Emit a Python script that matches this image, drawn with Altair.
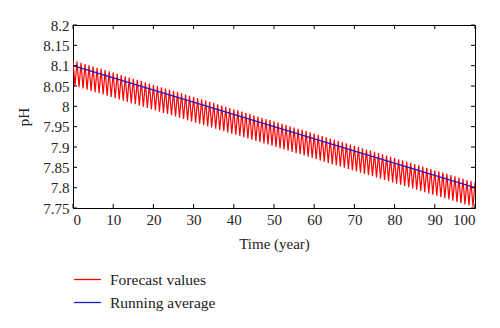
import altair as alt
import pandas as pd

# Forecast (red) peak values at integer years 0..100
peak_years = list(range(0, 101))
peak_ph = [
    8.113, 8.110, 8.107, 8.104, 8.101, 8.098, 8.095, 8.092, 8.089, 8.086,
    8.083, 8.080, 8.077, 8.074, 8.071, 8.068, 8.065, 8.062, 8.059, 8.056,
    8.053, 8.050, 8.047, 8.044, 8.041, 8.038, 8.035, 8.032, 8.029, 8.026,
    8.023, 8.020, 8.017, 8.014, 8.011, 8.008, 8.005, 8.002, 7.999, 7.996,
    7.993, 7.990, 7.987, 7.984, 7.981, 7.978, 7.975, 7.972, 7.969, 7.966,
    7.963, 7.960, 7.957, 7.954, 7.951, 7.948, 7.945, 7.942, 7.939, 7.936,
    7.933, 7.930, 7.927, 7.924, 7.921, 7.918, 7.915, 7.912, 7.909, 7.906,
    7.903, 7.900, 7.897, 7.894, 7.891, 7.888, 7.885, 7.882, 7.879, 7.876,
    7.873, 7.870, 7.867, 7.864, 7.861, 7.858, 7.855, 7.852, 7.849, 7.846,
    7.843, 7.840, 7.837, 7.834, 7.831, 7.828, 7.825, 7.822, 7.819, 7.816,
    7.813,
]
# Forecast (red) trough values at mid-years 0.5..99.5
trough_years = [y + 0.5 for y in range(0, 100)]
trough_ph = [
    8.050, 8.047, 8.044, 8.041, 8.038, 8.035, 8.032, 8.029, 8.026, 8.023,
    8.020, 8.017, 8.014, 8.011, 8.008, 8.005, 8.002, 7.999, 7.996, 7.993,
    7.990, 7.987, 7.984, 7.981, 7.978, 7.975, 7.972, 7.969, 7.966, 7.963,
    7.960, 7.957, 7.954, 7.951, 7.948, 7.945, 7.942, 7.939, 7.936, 7.933,
    7.930, 7.927, 7.924, 7.921, 7.918, 7.915, 7.912, 7.909, 7.906, 7.903,
    7.900, 7.897, 7.894, 7.891, 7.888, 7.885, 7.882, 7.879, 7.876, 7.873,
    7.870, 7.867, 7.864, 7.861, 7.858, 7.855, 7.852, 7.849, 7.846, 7.843,
    7.840, 7.837, 7.834, 7.831, 7.828, 7.825, 7.822, 7.819, 7.816, 7.813,
    7.810, 7.807, 7.804, 7.801, 7.798, 7.795, 7.792, 7.789, 7.786, 7.783,
    7.780, 7.777, 7.774, 7.771, 7.768, 7.765, 7.762, 7.759, 7.756, 7.753,
]
# Running average (blue)
avg_years = [0, 100]
avg_ph = [8.100, 7.800]

x_ticks = [0, 10, 20, 30, 40, 50, 60, 70, 80, 90, 100]
y_ticks = [7.75, 7.8, 7.85, 7.9, 7.95, 8.0, 8.05, 8.1, 8.15, 8.2]

series_names = ["Forecast values", "Running average"]
series_colors = ["#ff0000", "#1a1acc"]

rows = [{"t": t, "ph": v} for t, v in zip(peak_years, peak_ph)]
rows += [{"t": t, "ph": v} for t, v in zip(trough_years, trough_ph)]
fc = pd.DataFrame(rows).sort_values("t")
fc["series"] = series_names[0]
av = pd.DataFrame({"t": avg_years, "ph": avg_ph, "series": series_names[1]})

W, H = 402, 183
FONT = "Liberation Serif"
TXT = "#222"

xs = alt.Scale(domain=[0, 100], nice=False, zero=False)
ys = alt.Scale(domain=[7.75, 8.2], nice=False, zero=False)
color = alt.Color(
    "series:N",
    scale=alt.Scale(domain=series_names, range=series_colors),
    legend=alt.Legend(
        title=None, orient="none", legendX=0, legendY=240,
        symbolType="stroke", symbolSize=729, symbolStrokeWidth=1.3,
        labelFont=FONT, labelFontSize=15.5, labelColor=TXT,
        rowPadding=-6, labelOffset=8,
    ),
)

xaxis = alt.Axis(
    title="Time (year)", values=x_ticks, format="d", ticks=False,
    labelFont=FONT, labelFontSize=15, labelColor=TXT, labelPadding=4,
    labelOverlap=False,
    titleFont=FONT, titleFontSize=15, titleFontWeight="normal",
    titleColor=TXT, titlePadding=9, grid=False, domainColor="#000",
)
yaxis = alt.Axis(
    title="pH", values=y_ticks, format=".2~f", ticks=False,
    labelFont=FONT, labelFontSize=15, labelColor=TXT, labelPadding=4,
    labelOverlap=False, labelSeparation=0,
    titleFont=FONT, titleFontSize=15, titleFontWeight="normal",
    titleColor=TXT, titlePadding=11, grid=False, domainColor="#000",
)

red = alt.Chart(fc).mark_line(strokeWidth=1.2, clip=True).encode(
    x=alt.X("t:Q", scale=xs, axis=xaxis),
    y=alt.Y("ph:Q", scale=ys, axis=yaxis),
    color=color,
    order="t:Q",
)
blue = alt.Chart(av).mark_line(strokeWidth=1.4).encode(
    x=alt.X("t:Q", scale=xs, axis=xaxis),
    y=alt.Y("ph:Q", scale=ys, axis=yaxis),
    color=color,
)

xt = pd.DataFrame({"t": x_ticks})
yt = pd.DataFrame({"ph": y_ticks})
tk = 4
xb = alt.Chart(xt).mark_rule(color="#000", strokeWidth=1).encode(
    x=alt.X("t:Q", scale=xs, axis=xaxis), y=alt.value(H), y2=alt.value(H - tk))
xtop = alt.Chart(xt).mark_rule(color="#000", strokeWidth=1).encode(
    x=alt.X("t:Q", scale=xs, axis=xaxis), y=alt.value(0), y2=alt.value(tk))
yl = alt.Chart(yt).mark_rule(color="#000", strokeWidth=1).encode(
    y=alt.Y("ph:Q", scale=ys, axis=yaxis), x=alt.value(0), x2=alt.value(tk))
yr = alt.Chart(yt).mark_rule(color="#000", strokeWidth=1).encode(
    y=alt.Y("ph:Q", scale=ys, axis=yaxis), x=alt.value(W), x2=alt.value(W - tk))

chart = alt.layer(red, blue, xb, xtop, yl, yr).properties(
    width=W, height=H,
    autosize=alt.AutoSizeParams(type="none"),
    padding={"left": 73, "top": 25, "right": 25, "bottom": 120},
    background="white",
).configure_view(stroke="#000", strokeWidth=1).configure_axis(labelOverlap=False)

chart.save("out.html", embed_options={"renderer": "svg", "actions": False})
